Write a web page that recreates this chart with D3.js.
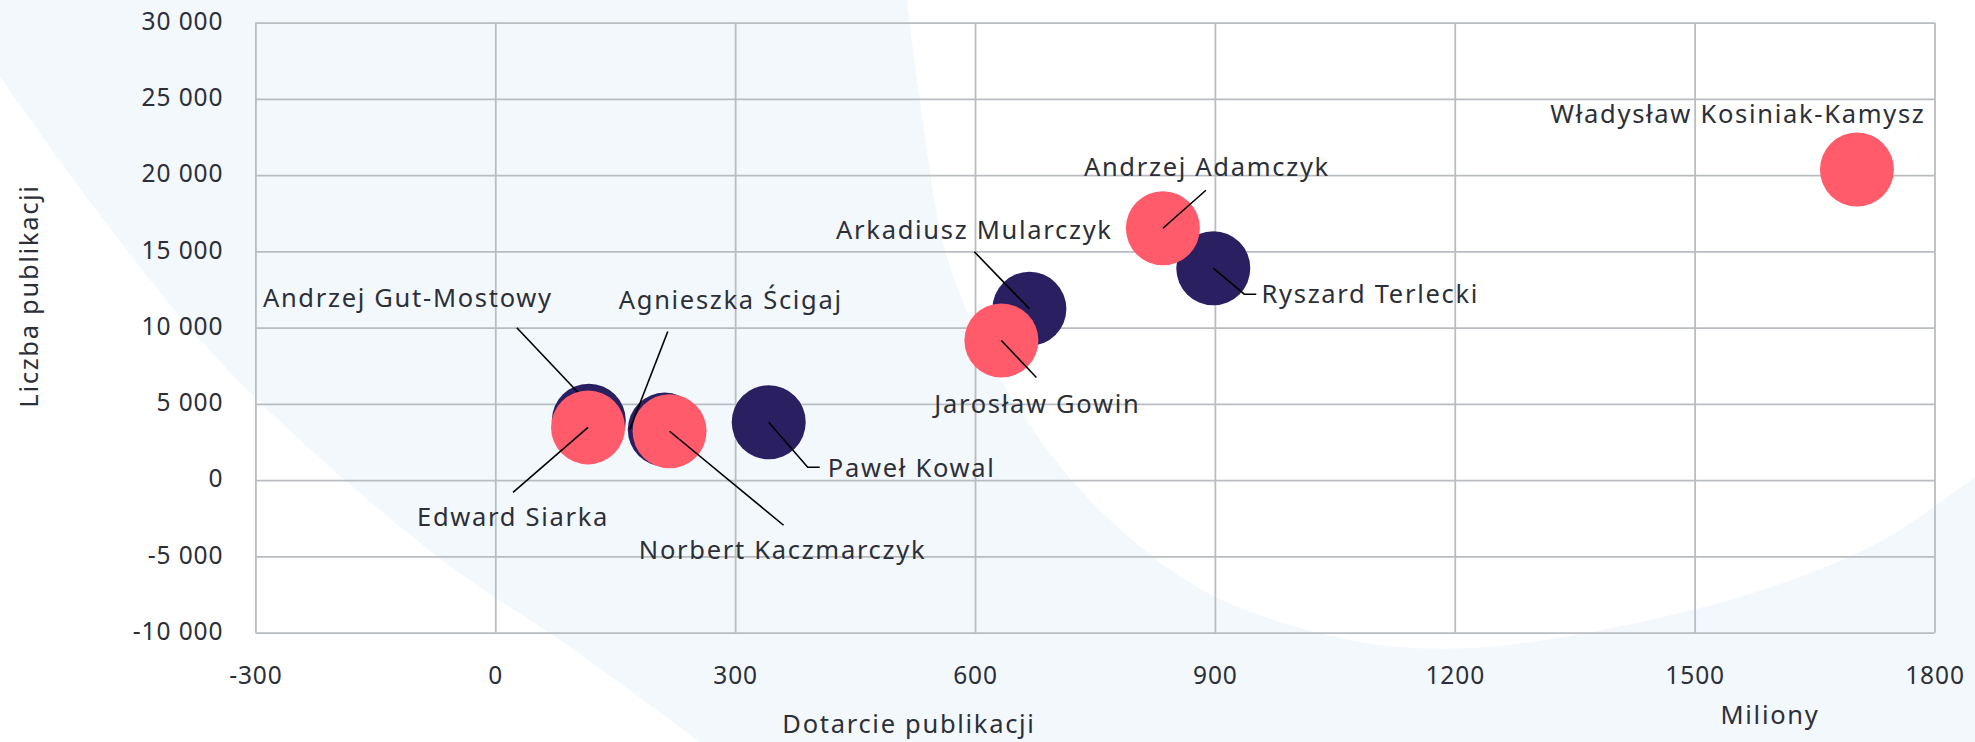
<!DOCTYPE html>
<html>
<head>
<meta charset="utf-8">
<script src="https://cdn.jsdelivr.net/npm/d3@7/dist/d3.min.js"></script>
<style>
  html, body { margin: 0; padding: 0; background: #ffffff; }
  svg { display: block; }
  text { font-family: "Noto Sans", "Open Sans", sans-serif; }
</style>
</head>
<body>
<svg id="chart" width="1975" height="742"></svg>
<script>
// ---- data -------------------------------------------------------------
// Series 1 (navy bubbles)
const navyNames = ["Andrzej Gut-Mostowy", "Agnieszka Ścigaj", "Paweł Kowal", "Arkadiusz Mularczyk", "Ryszard Terlecki"];
const navyReach = [117, 212, 342, 668, 898];          // Dotarcie publikacji, mln
const navyCount = [3900, 3320, 3800, 11240, 13900];  // Liczba publikacji

// Series 2 (pink bubbles)
const pinkNames = ["Edward Siarka", "Norbert Kaczmarczyk", "Jarosław Gowin", "Andrzej Adamczyk", "Władysław Kosiniak-Kamysz"];
const pinkReach = [116, 218, 633, 835, 1703];
const pinkCount = [3460, 3210, 9160, 16520, 20370];

const xTicks = [-300, 0, 300, 600, 900, 1200, 1500, 1800];
const yTicks = [-10000, -5000, 0, 5000, 10000, 15000, 20000, 25000, 30000];

const xTitle = "Dotarcie publikacji";
const xUnit = "Miliony";
const yTitle = "Liczba publikacji";

// ---- label placement (pixel offsets from the bubble centre) ------------
const labelLayout = {
  "Andrzej Gut-Mostowy":       { dx: -181, dy: -114, from: [-72, -93], to: [16, 0] },
  "Agnieszka Ścigaj":          { dx: 66,   dy: -121, from: [3, -98],   to: [-35, 0] },
  "Paweł Kowal":               { dx: 143,  dy: 55,   from: [51, 45],   elbow: [39, 45] },
  "Arkadiusz Mularczyk":       { dx: -55,  dy: -70,  from: [-55, -57] },
  "Ryszard Terlecki":          { dx: 157,  dy: 35,   from: [43, 26],   elbow: [31, 26] },
  "Edward Siarka":             { dx: -75,  dy: 99,   from: [-75, 65] },
  "Norbert Kaczmarczyk":       { dx: 113,  dy: 128,  from: [114, 94] },
  "Jarosław Gowin":            { dx: 36,   dy: 72,   from: [35, 37] },
  "Andrzej Adamczyk":          { dx: 44,   dy: -52,  from: [43, -38] },
  "Władysław Kosiniak-Kamysz": { dx: -119, dy: -47 }
};

// ---- styles -----------------------------------------------------------
const W = 1975, H = 742;
const plot = { left: 255.4, right: 1934.5, top: 22.7, bottom: 632.7 };
const navy = "#291f61", pink = "#ff5b6b";
const gridColor = "#b9bdc1", textColor = "#2c2f37", haze = "#f3f8fd";
const tickFont = { size: 24.5, spacing: "0.9px" };
const labelFont = { size: 25.5, spacing: "1.7px" };
const radius = 37;

const svg = d3.select("#chart");

function styleText(sel, f) {
  sel.attr("fill", textColor)
    .style("font-size", f.size + "px")
    .style("letter-spacing", f.spacing);
}

// ---- background swoosh ---------------------------------------------------
svg.append("rect").attr("width", W).attr("height", H).attr("fill", haze);

const curve = d3.line().curve(d3.curveCatmullRom.alpha(0.5));
const rightArc = [[907, 0], [920, 100], [945, 250], [985, 350], [1040, 440], [1110, 520], [1208, 593],
                  [1350, 640], [1472, 648], [1650, 620], [1783, 583], [1883, 540], [1975, 477]];
svg.append("path")
  .attr("d", curve(rightArc) + `L${W},0Z`)
  .attr("fill", "#ffffff");

const leftArc = [[0, 77], [100, 215], [200, 340], [300, 440], [446, 563], [574, 650], [700, 742]];
svg.append("path")
  .attr("d", curve(leftArc) + `L0,${H}Z`)
  .attr("fill", "#ffffff");

// ---- scales & axes ------------------------------------------------------
const x = d3.scaleLinear().domain([-300, 1800]).range([plot.left, plot.right]);
const y = d3.scaleLinear().domain([-10000, 30000]).range([plot.bottom, plot.top]);

const plLocale = d3.formatLocale({ decimal: ",", thousands: "\u00a0", grouping: [3], currency: ["", " zł"], minus: "-" });
const yFmt = plLocale.format(",d");
const xFmt = plLocale.format("d");

const yAxis = svg.append("g")
  .attr("transform", `translate(${plot.left},0)`)
  .call(d3.axisLeft(y).tickValues(yTicks).tickFormat(yFmt)
    .tickSize(-(plot.right - plot.left)).tickPadding(32));

const xAxis = svg.append("g")
  .attr("transform", `translate(0,${plot.bottom})`)
  .call(d3.axisBottom(x).tickValues(xTicks).tickFormat(xFmt)
    .tickSize(-(plot.bottom - plot.top)).tickPadding(34));

[xAxis, yAxis].forEach(g => {
  g.select(".domain").remove();
  g.selectAll(".tick line").attr("stroke", gridColor).attr("stroke-width", 1.8);
  g.selectAll(".tick text").call(styleText, tickFont);
});
yAxis.selectAll(".tick text").attr("dy", "0.27em");
xAxis.selectAll(".tick text").attr("dy", "0.71em");

// axis titles
svg.append("text")
  .attr("x", 909).attr("y", 733)
  .attr("text-anchor", "middle")
  .call(styleText, labelFont)
  .text(xTitle);

svg.append("text")
  .attr("x", 1770).attr("y", 724)
  .attr("text-anchor", "middle")
  .call(styleText, labelFont)
  .text(xUnit);

svg.append("text")
  .attr("transform", "translate(38,296) rotate(-90)")
  .attr("text-anchor", "middle")
  .call(styleText, labelFont)
  .text(yTitle);

// ---- bubbles ---------------------------------------------------------------
const navyData = navyNames.map((n, i) => ({ name: n, reach: navyReach[i], count: navyCount[i] }));
const pinkData = pinkNames.map((n, i) => ({ name: n, reach: pinkReach[i], count: pinkCount[i] }));

function leaderPath(d) {
  const L = labelLayout[d.name];
  if (!L || !L.from) return null;
  const cx = x(d.reach), cy = y(d.count);
  const end = L.to || [0, 0];
  let p = `M${cx + L.from[0]},${cy + L.from[1]}`;
  if (L.elbow) p += `L${cx + L.elbow[0]},${cy + L.elbow[1]}`;
  p += `L${cx + end[0]},${cy + end[1]}`;
  return p;
}

function drawSeries(data, color) {
  const g = svg.append("g");
  g.selectAll("circle").data(data).join("circle")
    .attr("cx", d => x(d.reach))
    .attr("cy", d => y(d.count))
    .attr("r", radius)
    .attr("fill", color);
  g.selectAll("path").data(data.filter(d => leaderPath(d))).join("path")
    .attr("d", leaderPath)
    .attr("fill", "none")
    .attr("stroke", "#000000")
    .attr("stroke-width", 1.6);
}

drawSeries(navyData, navy);
drawSeries(pinkData, pink);

// ---- data labels -------------------------------------------------------------
svg.append("g").selectAll("text")
  .data(navyData.concat(pinkData)).join("text")
  .attr("x", d => x(d.reach) + labelLayout[d.name].dx)
  .attr("y", d => y(d.count) + labelLayout[d.name].dy)
  .attr("text-anchor", "middle")
  .call(styleText, labelFont)
  .text(d => d.name);
</script>
</body>
</html>
